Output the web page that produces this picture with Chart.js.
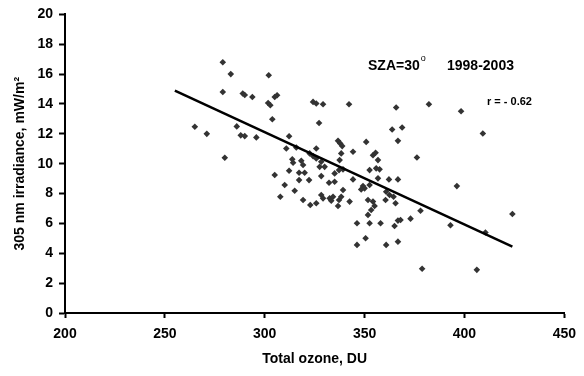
<!DOCTYPE html>
<html>
<head>
<meta charset="utf-8">
<script src="https://cdn.jsdelivr.net/npm/chart.js@4.4.1/dist/chart.umd.min.js"></script>
<style>
html,body{margin:0;padding:0;background:#fff;}
#wrap{width:584px;height:376px;position:relative;}
</style>
</head>
<body>
<div id="wrap"><canvas id="c" width="584" height="376"></canvas></div>
<script>
// Total ozone (DU)
const ozone = [
  265, 271, 279, 283, 279, 280, 286, 288, 290, 289, 290,
  293.8, 301.7, 302.8, 305, 306.2, 303.8, 295.8, 324.2, 325.8, 329.2, 342.2, 365.8, 327.2, 363.8, 366.7,
  312.2, 310.8, 315.8, 336.7, 337.8, 338.8, 325.8, 350.8, 344.2, 354.2, 355.5, 302,
  322.5, 324.2, 325.8, 328.3, 330, 327.5, 338.3,
  313.8, 314.2, 318.3, 319.2, 312.2, 317.2, 320, 317.2, 322.2, 305, 310, 315, 307.8, 319.2,
  322.8, 325.8, 328.3, 329.2, 332.5, 333.3, 334.2, 337.2, 338.3, 339.2, 342.5,
  332.2, 335, 328.3, 335, 337.2, 339.2, 337.5, 344.2, 349.2, 350, 348.3, 352.5, 356.7, 352.5,
  355.8, 357.5, 356.7, 362.2, 366.7, 360.8, 362.5, 364.5, 365.5, 360.5,
  351.7, 354.2, 355, 353.3, 351.7, 336.7,
  346.2, 352.5, 358, 365, 366.7, 350.5, 346.2, 360.8, 366.7,
  382.2, 398.3, 368.8, 409.2, 376.2, 396.2, 378, 373, 368, 393, 410.5, 424, 378.8, 406.2
];
// 305 nm irradiance (mW/m2)
const irradiance = [
  12.47, 12.0, 16.8, 16.0, 14.8, 10.4, 12.5, 11.9, 11.85, 14.7, 14.6,
  14.47, 14.07, 13.91, 14.47, 14.58, 12.98, 11.76, 14.14, 14.03, 13.98, 13.98, 13.76, 12.73, 12.29, 11.53,
  11.84, 11.02, 11.09, 11.53, 11.36, 11.18, 11.02, 11.46, 10.80, 10.57, 10.73, 15.92,
  10.69, 10.51, 10.35, 10.13, 9.79, 9.79, 10.69,
  10.29, 10.06, 10.19, 9.91, 9.53, 9.39, 9.39, 8.90, 8.90, 9.24, 8.57, 8.19, 7.79, 7.57,
  7.23, 7.35, 7.90, 7.68, 7.68, 7.52, 7.79, 7.57, 7.79, 8.24, 7.46,
  8.72, 8.79, 9.17, 9.35, 9.57, 9.62, 10.24, 8.95, 8.50, 8.35, 8.28, 8.57, 9.02, 9.57,
  9.69, 9.62, 10.24, 8.95, 8.95, 8.12, 7.90, 7.79, 7.35, 7.57,
  7.57, 7.46, 7.17, 6.90, 6.57, 7.17,
  6.01, 6.01, 6.01, 5.83, 6.19, 5.01, 4.56, 4.56, 4.78,
  13.98, 13.51, 12.42, 12.02, 10.42, 8.50, 6.85, 6.32, 6.23, 5.88, 5.39, 6.63, 2.96, 2.89
];
// Regression line end points
const fitOzone = [255, 424];
const fitIrradiance = [14.9, 4.45];

const xTicks = [200, 250, 300, 350, 400, 450];
const yTicks = [0, 2, 4, 6, 8, 10, 12, 14, 16, 18, 20];

const FONT = "'Liberation Sans', Arial, sans-serif";

const scatterData = ozone.map((x, i) => ({x: x, y: irradiance[i]}));
const fitData = fitOzone.map((x, i) => ({x: x, y: fitIrradiance[i]}));

const annotate = {
  id: 'annotate',
  afterDatasetsDraw(chart) {
    const ctx = chart.ctx;
    ctx.save();
    ctx.fillStyle = '#000';
    ctx.textBaseline = 'alphabetic';
    ctx.textAlign = 'left';
    ctx.font = "bold 14px " + FONT;
    ctx.fillText('SZA=30', 368, 70);
    const w = ctx.measureText('SZA=30').width;
    ctx.font = "9px " + FONT;
    ctx.fillText('o', 368 + w + 1, 61);
    ctx.font = "bold 14px " + FONT;
    ctx.fillText('1998-2003', 447, 70);
    ctx.font = "bold 11px " + FONT;
    ctx.fillText('r = - 0.62', 487, 105);
    ctx.restore();
  }
};

new Chart(document.getElementById('c'), {
  data: {
    datasets: [
      {
        type: 'scatter',
        data: scatterData,
        pointStyle: 'rectRot',
        pointRadius: 3.3,
        pointHoverRadius: 3.3,
        backgroundColor: '#333333',
        borderColor: '#333333',
        borderWidth: 0,
        order: 2
      },
      {
        type: 'line',
        data: fitData,
        borderColor: '#000',
        borderWidth: 2.5,
        pointRadius: 0,
        fill: false,
        order: 1
      }
    ]
  },
  options: {
    responsive: false,
    animation: false,
    events: [],
    layout: {padding: {left: 0, right: 19, top: 14, bottom: 0}},
    plugins: {legend: {display: false}, tooltip: {enabled: false}},
    scales: {
      x: {
        type: 'linear',
        min: 200, max: 450,
        afterBuildTicks(s) { s.ticks = xTicks.map(v => ({value: v})); },
        afterFit(s) { s.height = 63; },
        grid: {drawOnChartArea: false, drawTicks: true, tickLength: 5, color: '#000', tickWidth: 2},
        border: {display: true, color: '#000', width: 2},
        ticks: {color: '#000', font: {family: FONT, size: 14, weight: 'bold'}, padding: 8, maxRotation: 0},
        title: {display: true, text: 'Total ozone, DU', color: '#000', font: {family: FONT, size: 14, weight: 'bold'}, padding: {top: 0, bottom: 8}}
      },
      y: {
        type: 'linear',
        min: 0, max: 20,
        afterBuildTicks(s) { s.ticks = yTicks.map(v => ({value: v})); },
        afterFit(s) { s.width = 65; },
        grid: {drawOnChartArea: false, drawTicks: true, tickLength: 6, color: '#000', tickWidth: 2},
        border: {display: true, color: '#000', width: 2},
        ticks: {color: '#000', font: {family: FONT, size: 14, weight: 'bold'}, padding: 6},
        title: {display: true, text: '305 nm irradiance, mW/m²', color: '#000', font: {family: FONT, size: 14, weight: 'bold'}, padding: {top: 12, bottom: 0}}
      }
    }
  },
  plugins: [annotate]
});
</script>
</body>
</html>
